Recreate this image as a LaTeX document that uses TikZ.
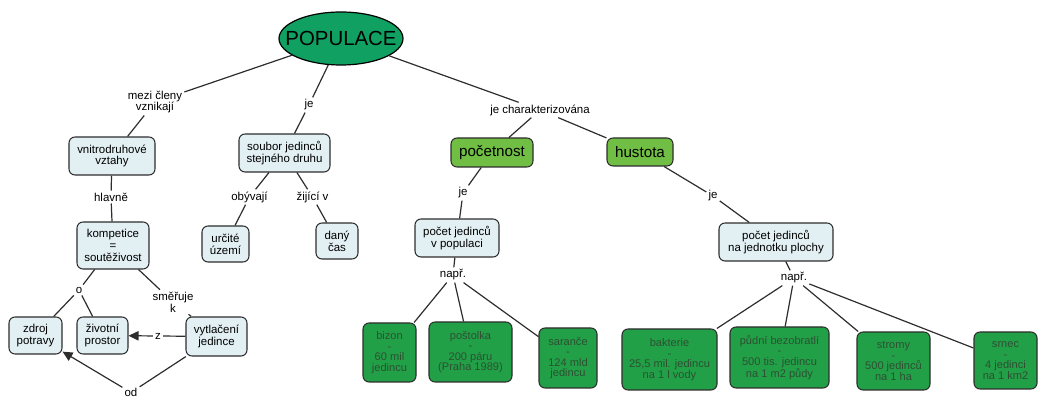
\documentclass[tikz,border=0pt]{standalone}
\usepackage{fontspec}
\setmainfont{Liberation Sans}
\usetikzlibrary{shapes.geometric,arrows.meta}
\definecolor{popfill}{RGB}{16,160,98}
\definecolor{darkgreen}{RGB}{34,160,72}
\definecolor{lightgreen}{RGB}{112,190,68}
\definecolor{paleblue}{RGB}{226,239,243}
\definecolor{edge}{RGB}{45,45,45}
\definecolor{greentext}{RGB}{45,80,50}

\tikzset{
  sz/.style 2 args={minimum width=#1*0.75pt,minimum height=#2*0.75pt},
  concept/.style={draw=edge,line width=0.8pt,fill=paleblue,rounded corners=4.5pt,
    align=center,inner sep=1pt,font=\fontsize{8.6}{8.8}\selectfont},
  example/.style={concept,fill=darkgreen,text=greentext,font=\fontsize{8.3}{7.9}\selectfont},
  trait/.style={concept,fill=lightgreen,font=\fontsize{11.4}{12}\selectfont},
  link/.style={align=center,inner sep=1.5pt,font=\fontsize{8.6}{8.8}\selectfont},
  conn/.style={draw=edge,line width=0.9pt},
  arr/.style={conn,-{Triangle[length=7.5pt,width=7pt]}}
}

\begin{document}
\begin{tikzpicture}[x=0.75pt,y=-0.75pt]
\useasboundingbox (0,0) rectangle (1039,398);

% root concept
\node[ellipse,draw=black,line width=0.9pt,fill=popfill,sz={124}{53},inner sep=0pt] (pop) at (341,38.5) {};
\node[font=\fontsize{15.3}{16}\selectfont] (poptext) at (pop.center) {POPULACE};

% concepts
\node[concept,sz={86}{38}] (vnitro) at (112,156) {vnitrodruhové\\vztahy};
\node[concept,sz={91}{38}] (soubor) at (284.5,153) {soubor jedinců\\stejného druhu};
\node[concept,sz={72}{47}] (komp) at (113,245.5) {kompetice\\=\\soutěživost};
\node[concept,sz={47}{36}] (uzemi) at (225.5,244) {určité\\území};
\node[concept,sz={42}{36}] (cas) at (337,241) {daný\\čas};
\node[concept,sz={53}{37}] (zdroj) at (35.5,335.5) {zdroj\\potravy};
\node[concept,sz={51}{37}] (prostor) at (102.5,335.5) {životní\\prostor};
\node[concept,sz={61}{39}] (vytlac) at (216.5,336.5) {vytlačení\\jedince};
\node[trait,sz={82}{29}] (pocetnost) at (492,152.5) {početnost};
\node[trait,sz={66}{28}] (hustota) at (640,152) {hustota};
\node[concept,sz={84}{38}] (vpop) at (457,238) {počet jedinců\\v populaci};
\node[concept,sz={114}{38}] (plocha) at (776,242) {počet jedinců\\na jednotku plochy};

% examples
\node[example,sz={53}{59}] (bizon) at (389.5,352.5) {bizon\\-\\60 mil\\jedincu};
\node[example,sz={83}{60}] (postolka) at (470.5,352) {poštolka\\-\\200 páru\\(Praha 1989)};
\node[example,sz={58}{60}] (sarance) at (568,358) {saranče\\-\\124 mld\\jedincu};
\node[example,sz={95}{61}] (bakterie) at (669.5,359.5) {bakterie\\-\\25,5 mil. jedincu\\na 1 l vody};
\node[example,sz={99}{61}] (pudni) at (779.5,357.5) {půdní bezobratlí\\-\\500 tis. jedincu\\na 1 m2 půdy};
\node[example,sz={73}{58}] (stromy) at (893.5,361) {stromy\\-\\500 jedinců\\na 1 ha};
\node[example,sz={63}{57}] (srnec) at (1005.5,360.5) {srnec\\-\\4 jedinci\\na 1 km2};

% linking phrases
\node[link] (mezi) at (155,102) {mezi členy\\vznikají};
\node[link] (je1) at (309,105) {je};
\node[link] (charakter) at (540,110) {je charakterizována};
\node[link] (hlavne) at (111,197) {hlavně};
\node[link] (obyvaji) at (249.5,197) {obývají};
\node[link] (zijici) at (312.5,197) {žijící v};
\node[link] (o) at (79,290) {o};
\node[link] (smeruje) at (173,302) {směřuje\\k};
\node[link] (z) at (158,336) {z};
\node[link] (od) at (131,392.5) {od};
\node[link] (je2) at (463,193) {je};
\node[link] (je3) at (713,196) {je};
\node[link] (napr1) at (453,275) {např.};
\node[link] (napr2) at (794,278) {např.};

% connectors
\draw[conn] (pop) -- (mezi);
\draw[conn] (mezi) -- (vnitro);
\draw[conn] (vnitro) -- (hlavne);
\draw[conn] (hlavne) -- (komp);
\draw[conn] (komp) -- (o);
\draw[conn] (o) -- (zdroj);
\draw[conn] (o) -- (prostor);
\draw[conn] (komp) -- (smeruje);
\draw[conn] (smeruje) -- (vytlac);
\draw[conn] (vytlac) -- (z);
\draw[arr] (z) -- (prostor);
\draw[conn] (vytlac) -- (od);
\draw[arr] (od) -- (zdroj);

\draw[conn] (pop) -- (je1);
\draw[conn] (je1) -- (soubor);
\draw[conn] (soubor) -- (obyvaji);
\draw[conn] (obyvaji) -- (uzemi);
\draw[conn] (soubor) -- (zijici);
\draw[conn] (zijici) -- (cas);

\draw[conn] (pop) -- (charakter);
\draw[conn] (charakter) -- (pocetnost);
\draw[conn] (charakter) -- (hustota);
\draw[conn] (pocetnost) -- (je2);
\draw[conn] (je2) -- (vpop);
\draw[conn] (vpop) -- (napr1);
\draw[conn] (napr1) -- (bizon);
\draw[conn] (napr1) -- (postolka);
\draw[conn] (napr1) -- (sarance);
\draw[conn] (hustota) -- (je3);
\draw[conn] (je3) -- (plocha);
\draw[conn] (plocha) -- (napr2);
\draw[conn] (napr2) -- (bakterie);
\draw[conn] (napr2) -- (pudni);
\draw[conn] (napr2) -- (stromy);
\draw[conn] (napr2) -- (srnec);
\end{tikzpicture}
\end{document}
